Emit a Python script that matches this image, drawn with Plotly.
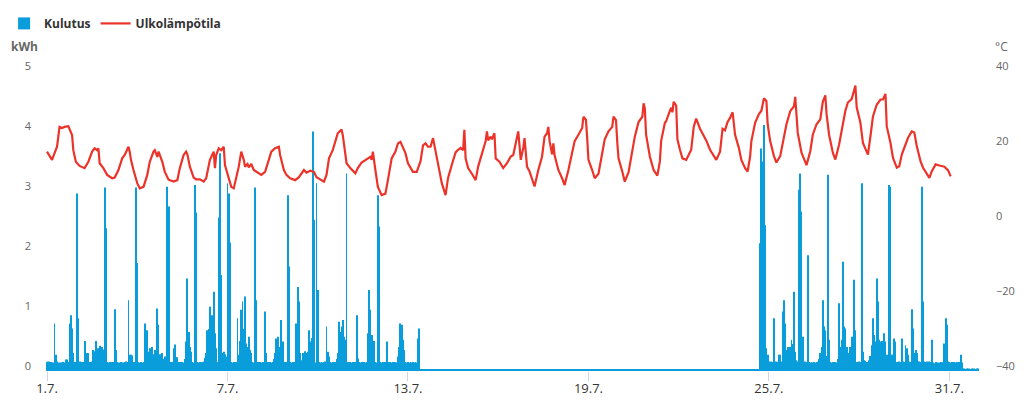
import pandas as pd
import plotly.graph_objects as go

# ---------------- data (hourly consumption, kWh) ----------------
k01 = [0.15,0.16,0.16,0.15,0.14,0.14,0.79,0.27,0.16,0.14,0.14,0.14,0.14,0.15,0.14,0.19,0.19,0.15,0.79,0.93,0.71,0.30,0.15,0.14]
k02 = [2.96,0.88,0.16,0.15,0.14,0.15,0.50,0.30,0.16,0.30,0.15,0.15,0.16,0.35,0.33,0.50,0.20,0.38,0.42,0.38,0.40,0.36,3.06,2.38]
k03 = [0.15,0.14,0.15,0.14,0.15,0.15,1.03,0.35,0.15,0.14,0.14,0.15,0.14,0.14,0.15,0.16,0.15,1.18,0.27,0.27,0.26,0.15,0.15,3.06]
k04 = [1.80,0.15,0.14,0.15,0.14,0.15,0.79,0.57,0.68,0.32,0.38,0.30,0.40,0.28,0.35,0.30,1.04,0.77,0.28,0.22,0.30,0.20,0.24,0.14]
k05 = [3.07,2.74,0.15,0.14,0.15,0.38,0.44,0.23,0.23,0.15,0.14,0.15,0.15,0.14,0.20,0.49,1.54,0.65,0.40,0.32,0.15,0.14,3.10,2.64]
k06 = [0.15,0.14,0.15,0.14,0.15,0.16,0.22,0.30,0.68,0.70,1.07,0.74,0.93,1.32,0.63,0.38,0.15,2.56,3.63,1.60,0.30,0.32,0.28,0.24]
k07 = [3.13,2.96,2.14,0.15,0.14,0.15,0.14,0.15,0.88,0.27,0.50,1.02,1.16,0.70,1.24,0.46,0.40,0.57,0.35,0.30,0.15,0.14,3.06,1.18]
k08 = [0.15,0.14,0.15,0.14,0.15,0.14,0.99,0.30,0.15,0.14,0.15,0.14,0.15,0.20,0.30,0.54,0.57,0.24,0.40,0.85,0.49,0.15,0.14,0.15]
k09 = [2.93,1.74,0.15,0.14,0.15,0.14,0.15,0.79,1.40,1.16,0.30,0.18,0.30,0.28,0.33,0.30,0.32,0.68,0.49,0.55,3.99,2.52,0.14,3.13]
k10 = [1.35,0.15,0.14,0.15,0.14,0.15,0.16,0.74,0.32,0.24,0.15,0.14,0.15,0.14,0.15,0.20,0.30,0.82,0.65,0.74,0.85,0.57,0.52,3.29]
k11 = [0.15,0.14,0.15,0.14,0.15,0.14,0.15,0.93,0.21,0.15,0.14,0.15,0.14,0.15,0.14,0.15,0.63,1.35,1.02,0.60,0.28,0.50,0.15,0.14]
k12 = [2.93,2.41,0.15,0.14,0.15,0.14,0.15,0.49,0.15,0.14,0.15,0.14,0.15,0.14,0.15,0.14,0.24,0.40,0.79,0.77,0.52,0.35,0.15,0.14]
k13 = [0.15,0.14,0.15,0.14,0.15,0.14,0.15,0.14,0.54,0.71,0.03,0.03,0.02,0.03,0.03,0.03,0.03,0.02,0.03,0.03,0.03,0.03,0.02,0.03]
k14 = [0.03,0.03,0.03,0.02,0.03,0.03,0.03,0.03,0.02,0.03,0.03,0.03,0.03,0.03,0.02,0.03,0.03,0.03,0.03,0.02,0.03,0.03,0.03,0.03]
k15 = [0.03,0.02,0.03,0.03,0.03,0.03,0.03,0.02,0.03,0.03,0.03,0.03,0.02,0.03,0.03,0.03,0.03,0.03,0.02,0.03,0.03,0.03,0.02,0.03]
k16 = [0.03,0.03,0.03,0.03,0.02,0.03,0.03,0.03,0.03,0.02,0.03,0.03,0.03,0.03,0.03,0.02,0.03,0.03,0.03,0.03,0.02,0.03,0.03,0.03]
k17 = [0.03,0.03,0.02,0.03,0.03,0.03,0.03,0.03,0.02,0.03,0.03,0.03,0.02,0.03,0.03,0.03,0.03,0.02,0.03,0.03,0.03,0.03,0.03,0.02]
k18 = [0.03,0.03,0.03,0.03,0.02,0.03,0.03,0.03,0.03,0.03,0.02,0.03,0.03,0.03,0.03,0.02,0.03,0.03,0.03,0.03,0.03,0.02,0.03,0.03]
k19 = [0.03,0.02,0.03,0.03,0.03,0.03,0.02,0.03,0.03,0.03,0.03,0.03,0.02,0.03,0.03,0.03,0.03,0.02,0.03,0.03,0.03,0.03,0.02,0.03]
k20 = [0.03,0.03,0.03,0.02,0.03,0.03,0.03,0.03,0.03,0.02,0.03,0.03,0.03,0.03,0.02,0.03,0.03,0.03,0.03,0.03,0.02,0.03,0.03,0.03]
k21 = [0.03,0.03,0.02,0.03,0.03,0.03,0.03,0.02,0.03,0.03,0.03,0.03,0.03,0.02,0.03,0.03,0.03,0.03,0.02,0.03,0.03,0.03,0.03,0.02]
k22 = [0.03,0.03,0.03,0.03,0.02,0.03,0.03,0.03,0.03,0.02,0.03,0.03,0.03,0.03,0.03,0.02,0.03,0.03,0.03,0.02,0.03,0.03,0.03,0.03]
k23 = [0.03,0.02,0.03,0.03,0.03,0.03,0.03,0.02,0.03,0.03,0.03,0.03,0.02,0.03,0.03,0.03,0.03,0.03,0.02,0.03,0.03,0.03,0.02,0.03]
k24 = [0.03,0.03,0.03,0.02,0.03,0.03,0.03,0.03,0.02,0.03,0.03,0.03,0.03,0.03,0.02,0.03,0.03,2.13,3.71,3.49,4.10,2.43,0.38,0.27]
k25 = [0.16,0.15,0.16,0.15,0.88,0.15,0.16,0.15,0.27,0.27,0.16,0.99,1.18,0.79,0.35,0.40,0.32,0.40,0.52,0.45,1.32,0.32,0.18,0.16]
k26 = [3.02,3.29,2.66,0.57,0.15,0.16,0.15,1.93,0.15,0.14,0.15,0.14,0.15,0.14,0.15,0.16,0.20,0.30,0.40,1.18,0.74,0.68,0.25,3.27]
k27 = [0.52,0.15,0.14,0.15,0.14,0.15,0.14,0.20,1.13,0.40,0.52,1.82,0.74,0.71,0.40,0.30,0.18,0.40,0.57,0.57,1.52,0.68,0.15,0.14]
k28 = [0.16,0.15,3.13,0.32,0.18,0.17,0.15,0.13,0.18,0.25,0.43,0.88,0.60,0.49,1.54,1.16,0.52,0.49,0.50,0.49,0.63,0.49,0.27,0.25]
k29 = [3.10,3.07,0.27,0.27,0.54,0.49,0.15,0.14,0.16,0.15,0.54,0.16,0.15,0.43,0.38,0.27,0.16,0.15,1.03,0.71,0.30,0.35,0.30,0.16]
k30 = [0.16,0.15,3.07,1.16,0.16,0.15,0.16,0.15,0.16,0.15,0.52,0.14,0.13,0.15,0.14,0.13,0.14,0.15,0.14,0.14,0.46,0.88,0.77,0.16]
k31 = [0.15,0.14,0.15,0.14,0.15,0.14,0.15,0.14,0.15,0.27,0.14,0.04,0.04,0.03,0.04,0.04,0.04,0.03,0.04,0.04,0.04,0.03,0.04,0.04]

# ---------------- data (outdoor temperature, hours since 1.7. 00:00, degC) ----------------
lampo_tunti = [0,4,8,10,12,14,17,20,21,23,
    26,30,33,36,38,40,41,42,45,48,
    52,54,57,60,62,65,66,67,69,72,
    74,77,80,82,85,86,88,89,92,94,97,
    101,104,106,109,111,112,114,117,119,
    122,125,127,130,133,134,135,137,139,141,142,
    145,147,149,150,153,155,157,158,160,161,163,165,
    169,171,174,177,179,182,185,186,189,191,
    194,198,201,205,207,210,213,215,
    218,221,223,225,228,230,232,235,236,239,
    242,246,248,251,255,258,259,260,262,
    264,267,270,272,275,278,280,282,284,286,288,
    290,292,295,298,300,302,304,306,308,310,312,
    315,318,320,323,326,328,330,332,333,334,336,
    339,342,344,347,350,351,352,354,355,357,358,361,
    364,367,370,372,375,376,378,380,381,383,
    385,388,389,392,395,397,399,400,401,403,404,405,
    408,411,413,416,419,421,424,427,428,430,431,432,
    435,437,440,443,445,448,451,452,454,455,456,
    459,461,464,467,469,472,475,476,477,478,
    481,484,487,489,490,493,494,496,498,499,500,502,503,
    505,507,510,514,516,518,521,524,526,
    529,532,534,537,539,541,543,545,547,549,552,
    554,557,559,561,562,565,568,570,572,574,575,
    577,580,582,585,588,590,593,596,597,598,599,
    602,605,606,609,611,614,617,619,621,622,624,
    627,629,632,634,637,639,642,644,645,646,
    649,651,655,657,659,662,665,667,669,670,
    673,675,678,680,682,685,687,690,692,694,
    697,699,702,704,706,709,712,716,719,721]
lampo_c = [18.5,16.3,19.8,25.1,24.8,25.1,25.3,22.9,18.9,15.8,
    14.7,14.1,15.8,18.5,19.4,18.9,19.4,15.4,14.1,12.3,
    11.4,11.6,13.6,16.7,17.6,19.8,18.5,16.3,13.6,10.1,
    8.7,9.1,12.3,15.8,18.5,18.9,17.1,18.5,15.8,13.1,11.0,
    10.5,10.9,14.1,17.6,18.5,17.8,14.5,11.6,11.1,
    11.1,10.5,11.4,16.3,18.5,14.1,17.6,19.4,18.9,19.8,14.9,
    11.7,9.1,8.7,10.1,14.5,18.5,16.3,14.5,15.2,14.3,15.2,13.6,
    12.7,12.3,13.1,16.3,18.5,19.4,19.8,17.6,13.6,12.3,
    11.4,10.9,11.7,13.6,12.9,13.4,13.1,11.7,
    11.1,10.5,12.3,16.7,18.9,21.1,23.4,24.4,22.9,15.4,
    14.1,12.7,14.1,15.6,16.4,17.1,16.3,18.5,13.6,
    9.1,6.9,7.3,10.9,16.7,18.5,20.7,21.1,19.4,18.1,15.4,
    14.1,13.1,13.1,15.9,20.2,20.7,19.8,19.8,22.1,18.9,14.9,
    10.1,6.9,11.5,15.0,18.3,19.0,19.5,18.9,24.3,16.7,14.1,
    12.6,10.9,14.5,18.1,21.3,23.9,21.5,22.5,21.8,23.4,16.7,15.8,
    14.1,15.4,17.2,17.6,22.1,23.9,16.3,19.5,22.1,14.5,
    13.2,10.1,9.2,13.6,17.2,22.5,23.4,25.1,21.3,17.8,20.7,17.5,
    13.6,11.4,9.6,13.6,18.1,21.3,23.0,24.8,27.8,27.0,22.1,16.3,
    13.6,11.4,12.6,17.8,21.8,23.9,25.1,27.8,26.9,21.0,16.7,
    13.2,10.5,13.0,18.5,22.5,26.4,27.8,31.4,30.0,23.0,
    17.2,13.6,12.1,15.9,21.3,26.2,26.6,28.5,30.2,29.0,31.8,30.8,21.8,
    19.0,16.7,16.3,19.0,25.1,27.3,24.6,22.9,21.5,
    19.0,17.4,16.3,18.5,24.6,24.2,26.4,27.5,29.0,23.0,19.5,
    16.3,14.1,13.2,17.2,21.3,26.2,28.5,29.4,32.7,32.0,25.8,
    21.3,17.3,15.6,17.3,22.6,25.8,29.3,30.6,33.1,29.0,23.5,
    18.2,15.6,14.9,18.6,23.0,25.8,27.1,31.8,33.5,28.5,23.0,
    18.2,16.4,20.4,24.4,29.4,31.6,32.5,34.9,36.1,30.4,
    26.2,20.8,17.7,22.6,27.9,31.0,32.4,32.4,33.9,25.3,
    20.8,16.8,14.2,14.6,17.7,20.4,22.2,23.9,23.6,19.9,
    15.9,14.2,12.4,11.5,13.3,15.1,14.8,14.5,13.5,11.9]

# ---------------- tick labels ----------------
x_tick_dates = ["2023-07-01", "2023-07-07", "2023-07-13", "2023-07-19", "2023-07-25", "2023-07-31"]
x_tick_text = ["1.7.", "7.7.", "13.7.", "19.7.", "25.7.", "31.7."]
kwh_ticks = [0, 1, 2, 3, 4, 5]
temp_ticks = [-40, -20, 0, 20, 40]

start = pd.Timestamp("2023-07-01 00:00")
kulutus = (k01 + k02 + k03 + k04 + k05 + k06 + k07 + k08 + k09 + k10 + k11 + k12 + k13 + k14 + k15 + k16
           + k17 + k18 + k19 + k20 + k21 + k22 + k23 + k24 + k25 + k26 + k27 + k28 + k29 + k30 + k31)
kulutus_aika = pd.date_range(start, periods=len(kulutus), freq="h")
lampo_aika = start + pd.to_timedelta(lampo_tunti, unit="h")

BAR = "#0a9ddc"
LINE = "#ec3329"
FONT = "Open Sans"

fig = go.Figure()
fig.add_trace(go.Bar(x=kulutus_aika, y=kulutus, name="Kulutus", marker=dict(color=BAR, line=dict(width=0)),
                     yaxis="y"))
fig.add_trace(go.Scatter(x=lampo_aika, y=lampo_c, name="Ulkolämpötila", mode="lines",
                         line=dict(color=LINE, width=2.2), yaxis="y2"))

L, R, T, B = 40, 34, 71, 34
W, H = 1024, 405
px_per_hour = 30.08 / 24
x0 = start - pd.Timedelta(hours=7 / px_per_hour)
x1 = x0 + pd.Timedelta(hours=(W - L - R) / px_per_hour)

fig.update_layout(
    width=W, height=H,
    margin=dict(l=L, r=R, t=T, b=B, pad=0, autoexpand=False),
    plot_bgcolor="white", paper_bgcolor="white",
    bargap=0.28,
    font=dict(family=FONT, color="#666666", size=11),
    showlegend=True,
    legend=dict(orientation="h", xref="container", yref="container", x=0.004, y=0.978,
                xanchor="left", yanchor="top", font=dict(family=FONT, size=12, color="#333333", weight="bold"),
                itemwidth=30, tracegroupgap=0),
    xaxis=dict(type="date", range=[x0, x1], tickvals=x_tick_dates, ticktext=x_tick_text, automargin=False,
               ticks="outside", ticklen=9, tickcolor="#ccd6eb", tickwidth=1, ticklabelstandoff=-4,
               showgrid=False, zeroline=False, showline=False,
               tickfont=dict(family=FONT, size=13, color="#333333")),
    yaxis=dict(range=[0, 5], tickvals=kwh_ticks, showgrid=False, zeroline=False, showline=False, automargin=False,
               ticks="", ticklabelstandoff=8, ticklabelshift=-5,
               tickfont=dict(family=FONT, size=11, color="#666666")),
    yaxis2=dict(range=[-40, 40], tickvals=temp_ticks, overlaying="y", side="right", automargin=False,
                showgrid=False, zeroline=False, showline=False, ticks="",
                ticklabelstandoff=5, ticklabelshift=-5,
                tickfont=dict(family=FONT, size=11, color="#666666")),
    annotations=[
        dict(text="<b>kWh</b>", xref="paper", yref="paper", x=(24 - L) / (W - L - R), y=(H - B - 46) / (H - T - B),
             xanchor="center", yanchor="middle", showarrow=False, font=dict(family=FONT, size=12, color="#666666")),
        dict(text="°C", xref="paper", yref="paper", x=(1001 - L) / (W - L - R), y=(H - B - 46) / (H - T - B),
             xanchor="center", yanchor="middle", showarrow=False, font=dict(family=FONT, size=12, color="#666666")),
    ],
)

fig.write_html("out.html", config={"displayModeBar": False}, post_script="document.body.style.margin='0';")
